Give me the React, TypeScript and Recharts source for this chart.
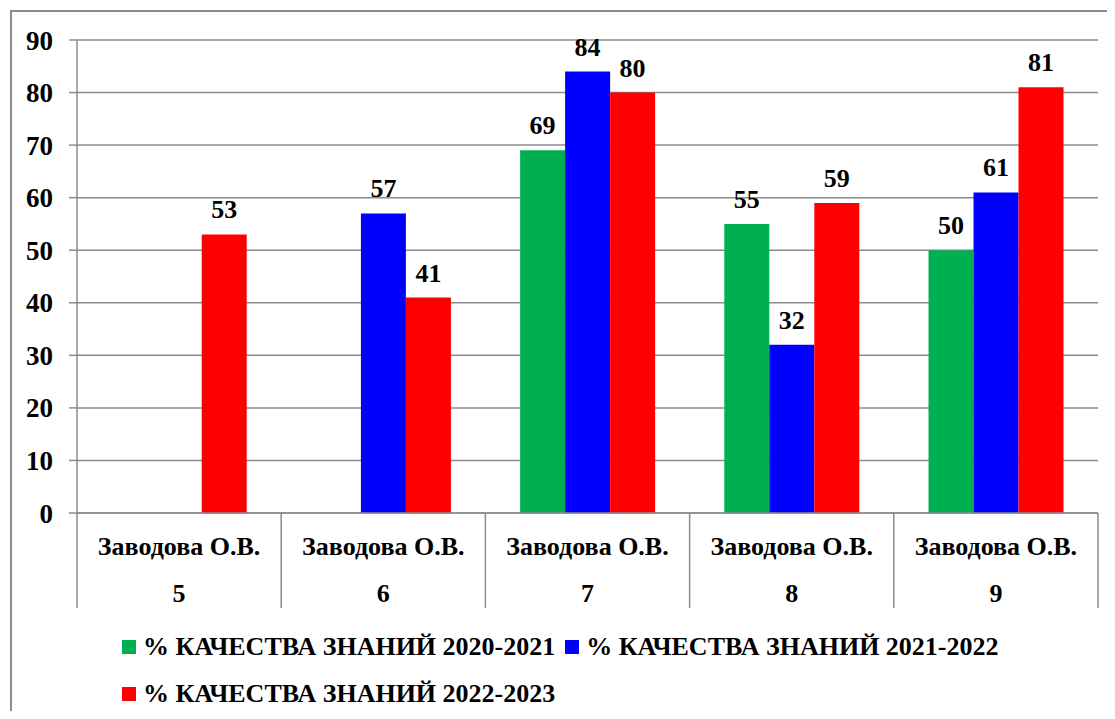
import React from 'react';
import { BarChart, Bar, XAxis, YAxis, CartesianGrid, Legend, LabelList } from 'recharts';

const classes = ['5', '6', '7', '8', '9'];
const teachers = ['Заводова О.В.', 'Заводова О.В.', 'Заводова О.В.', 'Заводова О.В.', 'Заводова О.В.'];
const q2020 = [null, null, 69, 55, 50];
const q2021 = [null, 57, 84, 32, 61];
const q2022 = [53, 41, 80, 59, 81];
const seriesNames = ['% КАЧЕСТВА ЗНАНИЙ 2020-2021', '% КАЧЕСТВА ЗНАНИЙ 2021-2022', '% КАЧЕСТВА ЗНАНИЙ 2022-2023'];
const seriesColors = ['#00B050', '#0000FF', '#FF0000'];
const yTicks = [0, 10, 20, 30, 40, 50, 60, 70, 80, 90];

const data = classes.map((c, i) => ({ cat: c, s1: q2020[i], s2: q2021[i], s3: q2022[i] }));

const FONT = 'Times New Roman';
const GRAY = '#8c8c8c';

function CatTick(props: any) {
  const { x, y, payload, index, width, visibleTicksCount } = props;
  const idx = payload && payload.index != null ? payload.index : index;
  const band = width / (visibleTicksCount || classes.length);
  const half = band / 2;
  return (
    <g>
      <line x1={x - half} x2={x - half} y1={y} y2={y + 95} stroke={GRAY} strokeWidth={1.5} />
      {idx === classes.length - 1 && (
        <line x1={x + half} x2={x + half} y1={y} y2={y + 95} stroke={GRAY} strokeWidth={1.5} />
      )}
      <text x={x} y={y + 42} textAnchor="middle" fontFamily={FONT} fontWeight="bold" fontSize={26} fill="#000">
        {teachers[idx]}
      </text>
      <text x={x} y={y + 89} textAnchor="middle" fontFamily={FONT} fontWeight="bold" fontSize={26} fill="#000">
        {classes[idx]}
      </text>
    </g>
  );
}

function LegendContent() {
  return (
    <div style={{ display: 'flex', flexWrap: 'wrap', width: 950 }}>
      {seriesNames.map((n, i) => (
        <div key={n} style={{ display: 'flex', alignItems: 'center', height: 47, marginRight: 10 }}>
          <div style={{ width: 14, height: 14, background: seriesColors[i], marginRight: 7 }} />
          <span style={{ fontFamily: FONT, fontWeight: 'bold', fontSize: 26, color: '#000', whiteSpace: 'nowrap' }}>{n}</span>
        </div>
      ))}
    </div>
  );
}

const fmt = (v: any) => (v == null ? '' : v);

export default function App() {
  return (
    <div style={{ position: 'relative', width: 1107, height: 703, overflow: 'hidden', fontFamily: FONT }}>
      <div
        style={{
          position: 'absolute', left: 2, top: 2, width: 1200, height: 800,
          borderLeft: `2px solid ${GRAY}`, borderTop: `2px solid ${GRAY}`, boxSizing: 'border-box',
        }}
      />
      <BarChart
        width={1107}
        height={703}
        data={data}
        margin={{ top: 32, right: 17, left: 0, bottom: 14 }}
        barCategoryGap="17%"
        barGap={0}
      >
        <CartesianGrid vertical={false} stroke={GRAY} strokeWidth={1.5} />
        <XAxis
          dataKey="cat"
          height={95}
          interval={0}
          tickSize={0}
          tickMargin={0}
          tickLine={false}
          axisLine={{ stroke: GRAY, strokeWidth: 1.5 }}
          tick={<CatTick />}
        />
        <YAxis
          width={69}
          domain={[0, 90]}
          ticks={yTicks}
          interval={0}
          tickSize={8}
          tickMargin={16}
          axisLine={{ stroke: GRAY, strokeWidth: 1.5 }}
          tickLine={{ stroke: GRAY, strokeWidth: 1.5 }}
          tick={{ fontFamily: FONT, fontWeight: 'bold', fontSize: 27, fill: '#000' }}
        />
        <Legend
          verticalAlign="bottom"
          layout="horizontal"
          content={<LegendContent />}
          wrapperStyle={{ left: 114, top: 615, bottom: 'auto', width: 950, height: 89 }}
        />
        <Bar dataKey="s1" name={seriesNames[0]} fill={seriesColors[0]} isAnimationActive={false}>
          <LabelList dataKey="s1" position="top" offset={16} formatter={fmt} fontFamily={FONT} fontWeight="bold" fontSize={26} fill="#000" />
        </Bar>
        <Bar dataKey="s2" name={seriesNames[1]} fill={seriesColors[1]} isAnimationActive={false}>
          <LabelList dataKey="s2" position="top" offset={16} formatter={fmt} fontFamily={FONT} fontWeight="bold" fontSize={26} fill="#000" />
        </Bar>
        <Bar dataKey="s3" name={seriesNames[2]} fill={seriesColors[2]} isAnimationActive={false}>
          <LabelList dataKey="s3" position="top" offset={16} formatter={fmt} fontFamily={FONT} fontWeight="bold" fontSize={26} fill="#000" />
        </Bar>
      </BarChart>
    </div>
  );
}
